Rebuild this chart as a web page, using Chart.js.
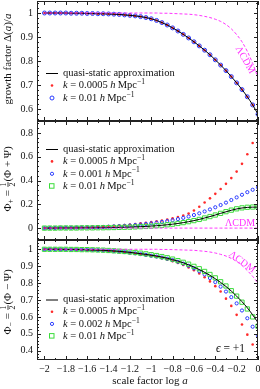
<!DOCTYPE html>
<html>
<head>
<meta charset="utf-8">
<script src="https://cdn.jsdelivr.net/npm/chart.js@4.4.1/dist/chart.umd.min.js"></script>
<style>
  html, body { margin: 0; padding: 0; background: #fff; }
  #wrap { position: relative; width: 260px; height: 389px; }
  #wrap canvas { position: absolute; left: 0; top: 0; }
</style>
</head>
<body>
<div id="wrap">
  <canvas id="growthChart" width="260" height="389"></canvas>
  <canvas id="phiPlusChart" width="260" height="389"></canvas>
  <canvas id="phiMinusChart" width="260" height="389"></canvas>
</div>
<script>
// Données (log a de -2 à 0, pas de 0.05)
const logA = [-2, -1.95, -1.9, -1.85, -1.8, -1.75, -1.7, -1.65, -1.6, -1.55, -1.5, -1.45, -1.4, -1.35,
  -1.3, -1.25, -1.2, -1.15, -1.1, -1.05, -1, -0.95, -0.9, -0.85, -0.8, -0.75, -0.7, -0.65, -0.6,
  -0.55, -0.5, -0.45, -0.4, -0.35, -0.3, -0.25, -0.2, -0.15, -0.1, -0.05, 0];

const xTicks = [-2, -1.8, -1.6, -1.4, -1.2, -1, -0.8, -0.6, -0.4, -0.2, 0];
const growthTicks = [0.6, 0.7, 0.8, 0.9, 1];
const phiPlusTicks = [0, 0.2, 0.4, 0.6, 0.8];
const phiMinusTicks = [0.4, 0.5, 0.6, 0.7, 0.8, 0.9, 1];

// panneau du haut : facteur de croissance
const growthQS = [1, 1, 1, 1, 1, 0.999, 0.999, 0.999, 0.998, 0.998, 0.997, 0.997, 0.996, 0.995,
  0.994, 0.992, 0.990, 0.988, 0.985, 0.981, 0.976, 0.969, 0.960, 0.950, 0.938, 0.925, 0.911, 0.896, 0.880,
  0.863, 0.845, 0.826, 0.805, 0.783, 0.760, 0.735, 0.709, 0.681, 0.651, 0.617, 0.578];
const growthK0005 = [1, 1, 1, 1, 1, 0.999, 0.999, 0.999, 0.998, 0.998, 0.997, 0.997, 0.996, 0.995,
  0.994, 0.992, 0.990, 0.988, 0.985, 0.981, 0.976, 0.969, 0.960, 0.950, 0.938, 0.925, 0.911, 0.896, 0.880,
  0.863, 0.845, 0.826, 0.805, 0.783, 0.760, 0.735, 0.709, 0.681, 0.651, 0.617, 0.578];
const growthK01 = [1, 1, 1, 1, 1, 0.999, 0.999, 0.999, 0.998, 0.998, 0.997, 0.997, 0.996, 0.995,
  0.994, 0.992, 0.990, 0.988, 0.985, 0.981, 0.976, 0.969, 0.960, 0.950, 0.938, 0.925, 0.911, 0.896, 0.880,
  0.863, 0.845, 0.826, 0.805, 0.783, 0.760, 0.735, 0.709, 0.681, 0.651, 0.617, 0.578];
const growthLCDM = [1, 1, 1, 1, 1, 1, 1, 1, 1, 1, 1, 1, 1, 1,
  1, 1, 1, 1, 1, 1, 1, 1, 0.999, 0.999, 0.998, 0.997, 0.996, 0.995, 0.993,
  0.990, 0.986, 0.981, 0.974, 0.965, 0.952, 0.934, 0.910, 0.880, 0.840, 0.790, 0.730];

// panneau du milieu : Phi+
const phiPlusQS = [0, 0, 0, 0.001, 0.001, 0.001, 0.001, 0.002, 0.002, 0.002, 0.003, 0.003, 0.004, 0.005,
  0.006, 0.007, 0.008, 0.010, 0.012, 0.014, 0.017, 0.020, 0.024, 0.028, 0.033, 0.039, 0.046, 0.054, 0.063,
  0.073, 0.085, 0.097, 0.110, 0.124, 0.137, 0.150, 0.161, 0.169, 0.174, 0.176, 0.176];
const phiPlusK0005 = [0, 0.001, 0.002, 0.003, 0.004, 0.005, 0.006, 0.007, 0.009, 0.010, 0.012, 0.014, 0.017, 0.020,
  0.023, 0.026, 0.030, 0.035, 0.040, 0.045, 0.051, 0.057, 0.064, 0.072, 0.082, 0.093, 0.106, 0.122, 0.148,
  0.180, 0.215, 0.250, 0.288, 0.328, 0.372, 0.420, 0.475, 0.540, 0.620, 0.715, null];
const phiPlusK001 = [0, 0.001, 0.001, 0.002, 0.003, 0.003, 0.004, 0.005, 0.006, 0.007, 0.008, 0.010, 0.012, 0.014,
  0.016, 0.019, 0.022, 0.026, 0.030, 0.035, 0.040, 0.046, 0.052, 0.059, 0.067, 0.076, 0.086, 0.097, 0.110,
  0.124, 0.140, 0.157, 0.175, 0.194, 0.214, 0.236, 0.258, 0.280, 0.302, 0.322, 0.342];
const phiPlusK01 = [0, 0, 0, 0.001, 0.001, 0.001, 0.001, 0.002, 0.002, 0.002, 0.003, 0.003, 0.004, 0.005,
  0.006, 0.007, 0.008, 0.010, 0.012, 0.014, 0.017, 0.020, 0.024, 0.028, 0.033, 0.039, 0.046, 0.054, 0.063,
  0.073, 0.085, 0.097, 0.110, 0.124, 0.138, 0.151, 0.162, 0.170, 0.175, 0.177, 0.177];
const phiPlusLCDM = [0, 0, 0, 0, 0, 0, 0, 0, 0, 0, 0, 0, 0, 0,
  0, 0, 0, 0, 0, 0, 0, 0, 0, 0, 0, 0, 0, 0, 0,
  0, 0, 0, 0, 0, 0, 0, 0, 0, 0, 0, 0];

// panneau du bas : Phi-
const phiMinusQS = [1, 1, 1, 1, 0.999, 0.999, 0.999, 0.998, 0.997, 0.996, 0.995, 0.994, 0.992, 0.990,
  0.988, 0.985, 0.982, 0.978, 0.974, 0.970, 0.965, 0.960, 0.954, 0.947, 0.939, 0.930, 0.920, 0.908, 0.895,
  0.880, 0.864, 0.846, 0.826, 0.804, 0.780, 0.753, 0.723, 0.690, 0.654, 0.612, 0.566];
const phiMinusK0005 = [1, 1, 1, 0.999, 0.999, 0.999, 0.998, 0.997, 0.996, 0.995, 0.994, 0.992, 0.990, 0.988,
  0.985, 0.982, 0.978, 0.974, 0.970, 0.965, 0.960, 0.954, 0.947, 0.939, 0.930, 0.919, 0.907, 0.893, 0.876,
  0.857, 0.835, 0.810, 0.782, 0.750, 0.708, 0.665, 0.612, 0.555, 0.495, 0.437, null];
const phiMinusK002 = [1, 1, 1, 1, 0.999, 0.999, 0.998, 0.998, 0.997, 0.996, 0.995, 0.993, 0.991, 0.989,
  0.987, 0.984, 0.980, 0.976, 0.972, 0.967, 0.962, 0.957, 0.951, 0.944, 0.936, 0.926, 0.915, 0.902, 0.887,
  0.870, 0.851, 0.830, 0.806, 0.779, 0.750, 0.717, 0.680, 0.638, 0.592, 0.542, 0.490];
const phiMinusK01 = [1, 1, 1, 1, 1, 0.999, 0.999, 0.998, 0.998, 0.997, 0.996, 0.995, 0.993, 0.991,
  0.989, 0.987, 0.984, 0.981, 0.977, 0.973, 0.968, 0.963, 0.957, 0.950, 0.942, 0.933, 0.923, 0.912, 0.899,
  0.885, 0.869, 0.851, 0.831, 0.808, 0.783, 0.755, 0.723, 0.687, 0.647, 0.600, 0.545];
const phiMinusLCDM = [1, 1, 1, 1, 1, 1, 1, 1, 1, 1, 1, 1, 1, 1,
  1, 1, 1, 1, 1, 1, 1, 1, 0.999, 0.999, 0.998, 0.997, 0.996, 0.995, 0.994,
  0.991, 0.988, 0.984, 0.978, 0.970, 0.960, 0.946, 0.928, 0.904, 0.874, 0.840, 0.800];

const RED = "#ff2a2a";
const BLUE = "#2a3cff";
const GREEN = "#3cdc3c";
const MAGENTA = "#ff33ff";
const FONT = '"Liberation Serif", "DejaVu Serif", serif';

function fmt(v) {
  return String(v).replace("-", "\u2212");
}

function series(ys) {
  const out = [];
  ys.forEach((y, i) => { if (y !== null) out.push({ x: logA[i], y: y }); });
  return out;
}

function lineDs(ys, color, dash) {
  return {
    data: series(ys), showLine: true, borderColor: color, borderWidth: 1,
    borderDash: dash || [], pointRadius: 0, cubicInterpolationMode: "monotone"
  };
}

function dotDs(ys) {
  return { data: series(ys), showLine: false, pointStyle: "circle", pointRadius: 1.3,
    pointBackgroundColor: RED, pointBorderWidth: 0 };
}
function ringDs(ys, r) {
  return { data: series(ys), showLine: false, pointStyle: "circle", pointRadius: r,
    pointBackgroundColor: "rgba(0,0,0,0)", pointBorderColor: BLUE, pointBorderWidth: 1 };
}
function squareDs(ys) {
  return { data: series(ys), showLine: false, pointStyle: "rect", pointRadius: 3,
    pointBackgroundColor: "rgba(0,0,0,0)", pointBorderColor: GREEN, pointBorderWidth: 1 };
}

// texte "riche" : italique, indice, exposant, fraction
function drawRich(ctx, segs, x, y, size, align) {
  const parts = segs.map(s => {
    if (s.frac) {
      ctx.font = (size * 0.7) + "px " + FONT;
      const w = Math.max(ctx.measureText(s.frac[0]).width, ctx.measureText(s.frac[1]).width) + 2;
      return { s: s, w: w };
    }
    const fs = (s.sup || s.sub) ? size * 0.72 : size;
    ctx.font = (s.it ? "italic " : "") + fs + "px " + FONT;
    return { s: s, fs: fs, w: ctx.measureText(s.t).width };
  });
  const total = parts.reduce((a, p) => a + p.w, 0);
  let cx = align === "center" ? x - total / 2 : x;
  ctx.textAlign = "left";
  ctx.textBaseline = "middle";
  parts.forEach(p => {
    const s = p.s;
    if (s.frac) {
      ctx.font = (size * 0.7) + "px " + FONT;
      ctx.textAlign = "center";
      ctx.fillText(s.frac[0], cx + p.w / 2, y - size * 0.38);
      ctx.fillText(s.frac[1], cx + p.w / 2, y + size * 0.42);
      ctx.textAlign = "left";
      ctx.fillRect(cx + 0.5, y - 0.4, p.w - 1, 0.8);
    } else {
      ctx.font = (s.it ? "italic " : "") + p.fs + "px " + FONT;
      const dy = s.sup ? -size * 0.32 : (s.sub ? size * 0.28 : 0);
      ctx.fillText(s.t, cx, y + dy);
    }
    cx += p.w;
  });
}

function kLabel(val) {
  return [{ t: "k", it: true }, { t: " = " + val + " " }, { t: "h", it: true }, { t: "\u2009Mpc" }, { t: "\u22121", sup: true }];
}

// cadre + graduations vers l'intérieur
function drawFrame(chart, yMajor, yMinor) {
  const ctx = chart.ctx;
  const a = chart.chartArea;
  const xs = chart.scales.x, ys = chart.scales.y;
  ctx.save();
  ctx.strokeStyle = "#222";
  ctx.lineWidth = 1;
  ctx.strokeRect(Math.round(a.left) + 0.5, Math.round(a.top) + 0.5,
    Math.round(a.right - a.left) - 1, Math.round(a.bottom - a.top) - 1);
  ctx.beginPath();
  for (let v = -2; v <= 0.001; v += 0.1) {
    const px = Math.round(xs.getPixelForValue(v)) + 0.5;
    const major = xTicks.some(t => Math.abs(t - v) < 1e-6);
    const len = major ? 4 : 2;
    ctx.moveTo(px, a.bottom); ctx.lineTo(px, a.bottom - len);
    ctx.moveTo(px, a.top); ctx.lineTo(px, a.top + len);
  }
  const lo = ys.min, hi = ys.max;
  for (let v = Math.ceil(lo / yMinor) * yMinor; v <= hi; v += yMinor) {
    const py = Math.round(ys.getPixelForValue(v)) + 0.5;
    const major = yMajor.some(t => Math.abs(t - v) < 1e-6);
    const len = major ? 4 : 2;
    ctx.moveTo(a.left, py); ctx.lineTo(a.left + len, py);
    ctx.moveTo(a.right, py); ctx.lineTo(a.right - len, py);
  }
  ctx.stroke();
  ctx.restore();
}

function drawLegend(ctx, rows, y0, dy) {
  rows.forEach((r, i) => {
    const y = y0 + i * dy;
    ctx.save();
    if (r.sym === "line") {
      ctx.strokeStyle = "#000"; ctx.lineWidth = 1;
      ctx.beginPath(); ctx.moveTo(46, y + 0.5); ctx.lineTo(58, y + 0.5); ctx.stroke();
    } else if (r.sym === "dot") {
      ctx.fillStyle = RED; ctx.beginPath(); ctx.arc(52, y, 1.3, 0, Math.PI * 2); ctx.fill();
    } else if (r.sym === "ring") {
      ctx.strokeStyle = BLUE; ctx.lineWidth = 1; ctx.beginPath(); ctx.arc(52, y, r.r, 0, Math.PI * 2); ctx.stroke();
    } else if (r.sym === "square") {
      ctx.strokeStyle = GREEN; ctx.lineWidth = 1; ctx.strokeRect(49.5, y - 2.5, 4.5, 4.5);
    }
    ctx.fillStyle = "#111";
    drawRich(ctx, r.text, 63, y, 10.5, "left");
    ctx.restore();
  });
}

function drawRotated(ctx, segs, x, y, angle, size, color) {
  ctx.save();
  ctx.fillStyle = color;
  ctx.translate(x, y);
  ctx.rotate(angle);
  drawRich(ctx, segs, 0, 0, size, "center");
  ctx.restore();
}

const decoPlugin = {
  id: "panelDeco",
  afterDatasetsDraw(chart, args, opts) {
    drawFrame(chart, opts.yMajor, opts.yMinor);
    const ctx = chart.ctx;
    if (opts.draw) opts.draw(ctx, chart);
  }
};

// pas de marge automatique : les panneaux doivent se toucher
function noPad(s) {
  s.paddingTop = 0; s.paddingBottom = 0; s.paddingLeft = 0; s.paddingRight = 0;
}

function makePanel(id, cfg) {
  const canvas = document.getElementById(id);
  return new Chart(canvas.getContext("2d"), {
    type: "scatter",
    data: { datasets: cfg.datasets },
    options: {
      responsive: false,
      animation: false,
      events: [],
      layout: { autoPadding: false, padding: { left: 0, right: 2, top: cfg.top, bottom: cfg.bottom } },
      plugins: {
        legend: { display: false },
        tooltip: { enabled: false },
        panelDeco: { yMajor: cfg.yTicks, yMinor: cfg.yMinor, draw: cfg.draw }
      },
      scales: {
        x: {
          type: "linear", min: -2.07, max: 0, display: cfg.showX,
          afterBuildTicks: s => { s.ticks = xTicks.map(v => ({ value: v })); },
          afterFit: s => { s.height = cfg.showX ? 29 : 0; noPad(s); },
          grid: { display: false, drawTicks: false },
          border: { display: false },
          ticks: { callback: v => fmt(v), font: { family: FONT, size: 10 }, color: "#111",
            padding: 3, maxRotation: 0, autoSkip: false }
        },
        y: {
          min: cfg.yMin, max: cfg.yMax,
          afterBuildTicks: s => { s.ticks = cfg.yTicks.map(v => ({ value: v })); },
          afterFit: s => { s.width = 37; noPad(s); },
          grid: { display: false, drawTicks: false },
          border: { display: false },
          ticks: { callback: v => fmt(v), font: { family: FONT, size: 10 }, color: "#111", padding: 4 }
        }
      }
    },
    plugins: [decoPlugin]
  });
}

makePanel("growthChart", {
  top: 1, bottom: 268, showX: false,
  yMin: 0.55, yMax: 1.05, yTicks: growthTicks, yMinor: 0.02,
  datasets: [
    lineDs(growthLCDM, MAGENTA, [3, 2]),
    lineDs(growthQS, "#000"),
    ringDs(growthK01, 2),
    dotDs(growthK0005)
  ],
  draw: (ctx) => {
    drawLegend(ctx, [
      { sym: "line", text: [{ t: "quasi-static approximation" }] },
      { sym: "dot", text: kLabel("0.0005") },
      { sym: "ring", r: 2, text: kLabel("0.01") }
    ], 73, 12.5);
    drawRotated(ctx, [{ t: "\u039bCDM" }], 245, 60, 1.05, 10, MAGENTA);
    drawRotated(ctx, [{ t: "growth factor \u0394(" }, { t: "a", it: true }, { t: ")/" }, { t: "a", it: true }],
      8, 59, -Math.PI / 2, 11, "#111");
  }
});

makePanel("phiPlusChart", {
  top: 121, bottom: 149, showX: false,
  yMin: -0.1, yMax: 0.9, yTicks: phiPlusTicks, yMinor: 0.04,
  datasets: [
    lineDs(phiPlusLCDM, MAGENTA, [3, 2]),
    lineDs(phiPlusQS, "#000"),
    squareDs(phiPlusK01),
    ringDs(phiPlusK001, 1.6),
    dotDs(phiPlusK0005)
  ],
  draw: (ctx) => {
    drawLegend(ctx, [
      { sym: "line", text: [{ t: "quasi-static approximation" }] },
      { sym: "dot", text: kLabel("0.0005") },
      { sym: "ring", r: 1.6, text: kLabel("0.001") },
      { sym: "square", text: kLabel("0.01") }
    ], 149, 12.4);
    drawRotated(ctx, [{ t: "\u039bCDM" }], 240, 223, 0, 10, MAGENTA);
    drawRotated(ctx, [{ t: "\u03a6" }, { t: "+", sub: true }, { t: " = " }, { frac: ["1", "2"] }, { t: "(\u03a6 + \u03a8)" }],
      8, 179, -Math.PI / 2, 11, "#111");
  }
});

makePanel("phiMinusChart", {
  top: 240, bottom: 0, showX: true,
  yMin: 0.345, yMax: 1.055, yTicks: phiMinusTicks, yMinor: 0.02,
  datasets: [
    lineDs(phiMinusLCDM, MAGENTA, [3, 2]),
    lineDs(phiMinusQS, "#000"),
    squareDs(phiMinusK01),
    ringDs(phiMinusK002, 1.6),
    dotDs(phiMinusK0005)
  ],
  draw: (ctx) => {
    drawLegend(ctx, [
      { sym: "line", text: [{ t: "quasi-static approximation" }] },
      { sym: "dot", text: kLabel("0.0005") },
      { sym: "ring", r: 1.6, text: kLabel("0.002") },
      { sym: "square", text: kLabel("0.01") }
    ], 299.5, 12.2);
    drawRotated(ctx, [{ t: "\u039bCDM" }], 242, 262, 0.63, 10, MAGENTA);
    drawRotated(ctx, [{ t: "\u03a6" }, { t: "\u2212", sub: true }, { t: " = " }, { frac: ["1", "2"] }, { t: "(\u03a6 \u2212 \u03a8)" }],
      8, 302, -Math.PI / 2, 11, "#111");
    ctx.save(); ctx.fillStyle = "#111";
    drawRich(ctx, [{ t: "\u03f5", it: true }, { t: " = +1" }], 216, 349, 11.5, "left");
    drawRich(ctx, [{ t: "scale factor log " }, { t: "a", it: true }], 150, 381, 11, "center");
    ctx.restore();
  }
});
</script>
</body>
</html>
